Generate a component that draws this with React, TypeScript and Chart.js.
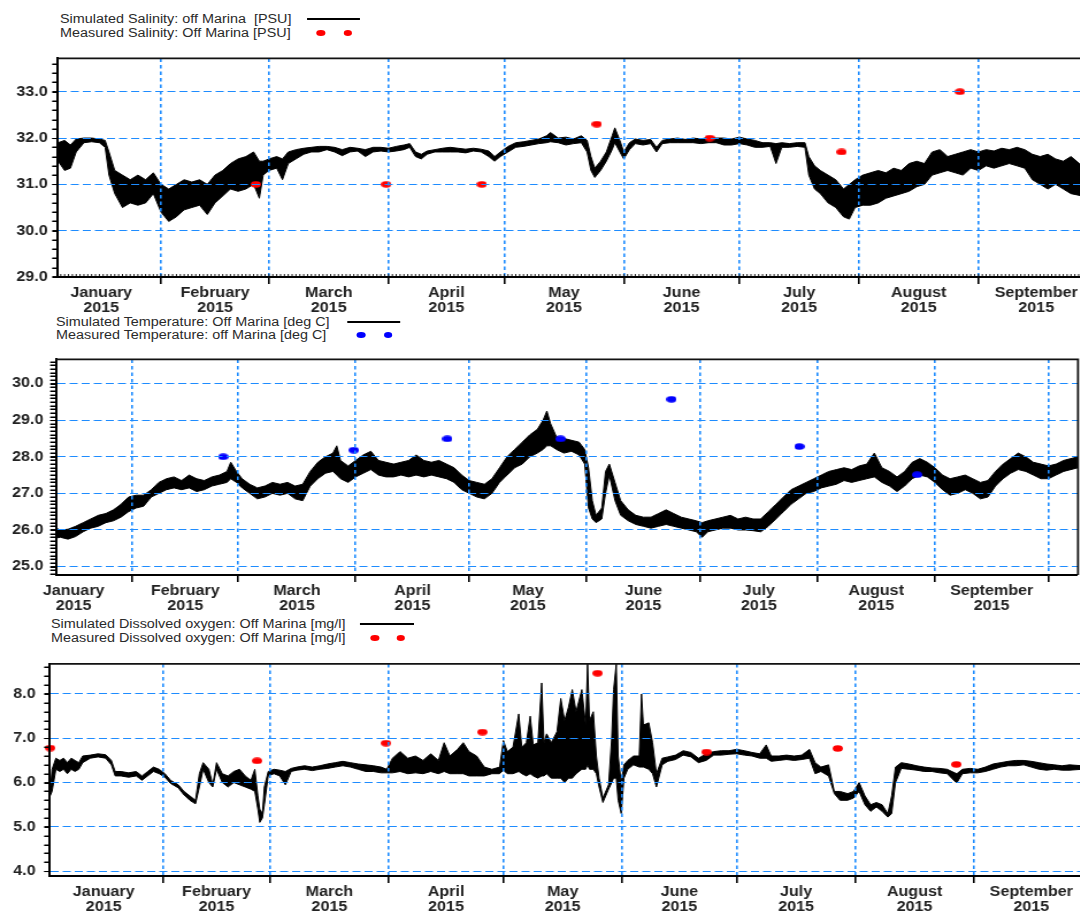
import React, { useEffect, useRef } from 'react';
import { Chart, registerables } from 'chart.js';

Chart.register(...registerables);

// ---------- layout constants ----------
const SX = 1.15; // the reference picture is stretched horizontally
const W = 945; // internal canvas width (page width / SX)
const FONT = "'Liberation Sans', Arial, Helvetica, sans-serif";
const GRID_BLUE = '#1e8cff';
const ix = (px: number) => px / SX;

// ---------- axis categories ----------
const MONTHS = ['January', 'February', 'March', 'April', 'May', 'June', 'July', 'August', 'September'];
const YEAR = '2015';
const MONTH_START = [0, 31, 59, 90, 120, 151, 181, 212, 243, 273]; // day of year 2015
const MONTH_MID = MONTHS.map((_, i) => (MONTH_START[i] + MONTH_START[i + 1]) / 2);

// ---------- Salinity (PSU) ----------
const SAL_DAY = [
  4.3, 6, 7.5, 9, 11, 13, 15, 16.5, 17.5, 19,
  21, 23, 25, 27, 29, 31, 33, 35, 37, 39,
  41, 43, 45, 47, 49, 51, 53, 55, 56.5, 57.5,
  59, 61, 62.5, 64, 66, 68, 70, 72, 74, 76,
  78, 80, 82, 84, 86, 88, 90, 92, 94, 95.5,
  97, 98.5, 100, 102, 104, 106, 108, 110, 112, 114,
  116, 117.5, 119, 121, 123, 125, 127, 129, 131, 132,
  134, 136, 138, 140, 141.5, 142.5, 143.5, 145, 146.5, 148,
  148.7, 150, 151, 152.5, 154, 156, 158, 159.5, 161, 163,
  165, 167, 169, 171, 173, 175, 177, 179, 181, 183,
  185, 187, 189, 190.5, 192, 194, 196, 198, 199, 200.5,
  202, 204, 206, 208, 209.5, 211, 213, 215, 217, 219,
  221, 223, 225, 227, 229, 231, 233, 235, 237, 239,
  241, 243, 245, 247, 249, 251, 253, 255, 257, 259,
  261, 263, 265, 267, 269.9,
];
const SAL_HI = [
  31.9, 31.95, 31.85, 31.98, 32.0, 32.0, 31.98, 31.95, 31.7, 31.3,
  31.2, 31.1, 31.2, 31.1, 31.25, 31.0, 30.9, 31.0, 31.1, 31.05,
  31.1, 31.0, 31.2, 31.3, 31.45, 31.55, 31.6, 31.7, 31.5, 31.5,
  31.55, 31.6, 31.55, 31.7, 31.75, 31.78, 31.8, 31.82, 31.82, 31.8,
  31.75, 31.8, 31.78, 31.75, 31.8, 31.8, 31.78, 31.82, 31.85, 31.88,
  31.7, 31.65, 31.72, 31.75, 31.78, 31.8, 31.78, 31.76, 31.78, 31.76,
  31.72, 31.6, 31.7, 31.82, 31.9, 31.92, 31.95, 31.98, 32.05, 32.12,
  32.0, 32.02, 31.98, 32.05, 31.95, 31.6, 31.35, 31.5, 31.7, 32.05,
  32.22, 31.95, 31.7, 31.9, 31.98, 31.95, 31.97, 31.8, 31.95, 31.98,
  32.0, 31.97, 32.0, 31.98, 32.02, 32.0, 32.0, 31.98, 32.02, 31.98,
  31.95, 31.9, 31.9, 31.88, 31.9, 31.88, 31.9, 31.9, 31.6, 31.4,
  31.3, 31.2, 31.1, 30.9, 31.0, 31.1, 31.2, 31.25, 31.3, 31.25,
  31.35, 31.3, 31.45, 31.5, 31.45, 31.7, 31.75, 31.6, 31.65, 31.7,
  31.75, 31.7, 31.75, 31.72, 31.78, 31.75, 31.8, 31.75, 31.65, 31.6,
  31.65, 31.55, 31.5, 31.6, 31.4,
];
const SAL_LO = [
  31.5, 31.3, 31.35, 31.7, 31.9, 31.92, 31.9, 31.8, 31.2, 30.8,
  30.5, 30.6, 30.55, 30.6, 30.8, 30.4, 30.2, 30.3, 30.45, 30.5,
  30.55, 30.35, 30.6, 30.75, 30.9, 30.85, 30.9, 31.0, 30.7, 31.2,
  31.3, 31.35, 31.1, 31.45, 31.55, 31.65, 31.7, 31.7, 31.75, 31.7,
  31.62, 31.7, 31.72, 31.6, 31.7, 31.72, 31.7, 31.72, 31.75, 31.8,
  31.6, 31.55, 31.65, 31.7, 31.7, 31.7, 31.7, 31.68, 31.72, 31.7,
  31.6, 31.5, 31.6, 31.7, 31.8, 31.82, 31.85, 31.88, 31.9, 31.92,
  31.9, 31.85, 31.88, 31.9, 31.7, 31.3, 31.15, 31.3, 31.5, 31.75,
  31.9, 31.7, 31.55, 31.75, 31.88, 31.85, 31.88, 31.7, 31.88, 31.9,
  31.9, 31.9, 31.9, 31.88, 31.9, 31.9, 31.85, 31.85, 31.88, 31.85,
  31.8, 31.8, 31.82, 31.45, 31.8, 31.8, 31.82, 31.8, 31.2, 30.9,
  30.8, 30.6, 30.5, 30.3, 30.25, 30.5, 30.55, 30.55, 30.6, 30.7,
  30.75, 30.8, 30.85, 30.95, 31.0, 31.2, 31.25, 31.3, 31.25, 31.2,
  31.35, 31.3, 31.4, 31.35, 31.4, 31.45, 31.4, 31.35, 31.1, 31.0,
  30.9, 31.0, 30.9, 30.8, 30.75,
];
const SAL_OBS_DAY = [55.6, 89.4, 114.2, 144.0, 173.3, 207.5, 238.2];
const SAL_OBS = [31.0, 31.0, 31.0, 32.3, 32.0, 31.7, 33.0];

// ---------- Temperature (deg C) ----------
const TMP_DAY = [
  10.85, 12, 14, 16, 18, 20, 22, 24, 26, 28,
  30, 32, 34, 36, 38, 40, 42, 44, 46, 48,
  50, 52, 54, 56, 57, 58.5, 60, 62, 64, 66,
  68, 70, 72, 74, 76, 78, 80, 82, 84, 85,
  86, 88, 90, 92, 94, 96, 98, 100, 102, 104,
  106, 108, 110, 112, 114, 116, 118, 120, 122, 124,
  126, 128, 130, 132, 134, 136, 138, 139.5, 140.5, 141.5,
  143, 145, 147, 149, 150.5, 151.5, 152.5, 153.5, 155, 156,
  157, 158.5, 160, 162, 164, 166, 168, 170, 172, 174,
  176, 178, 180, 181.5, 183, 185, 187, 189, 191, 193,
  195, 197, 199, 201, 203, 205, 207, 209, 211, 213,
  215, 217, 219, 221, 223, 225, 227, 229, 231, 233,
  235, 237, 239, 241, 243, 245, 247, 249, 251, 253,
  255, 257, 259, 261, 263, 265, 267, 269, 271, 273,
  275, 277, 280.8,
];
const TMP_HI = [
  26.05, 26.0, 26.02, 26.1, 26.2, 26.3, 26.4, 26.45, 26.55, 26.7,
  26.9, 26.95, 26.95, 27.1, 27.3, 27.4, 27.45, 27.35, 27.5, 27.4,
  27.35, 27.45, 27.5, 27.6, 27.85, 27.6, 27.4, 27.25, 27.15, 27.2,
  27.3, 27.25, 27.3, 27.2, 27.25, 27.6, 27.85, 28.0, 28.1, 28.3,
  27.9, 27.75, 27.9, 28.05, 28.15, 27.9, 27.85, 27.8, 27.85, 27.9,
  28.05, 27.9, 27.85, 27.9, 27.8, 27.7, 27.5, 27.35, 27.3, 27.25,
  27.4, 27.7, 28.0, 28.2, 28.4, 28.6, 28.75, 29.0, 29.25, 28.9,
  28.55, 28.5, 28.45, 28.4, 28.2, 27.7, 26.8, 26.4, 26.6, 27.6,
  27.8, 27.3, 26.8, 26.55, 26.4, 26.35, 26.35, 26.45, 26.55, 26.45,
  26.35, 26.3, 26.25, 26.2, 26.25, 26.3, 26.35, 26.4, 26.3, 26.35,
  26.3, 26.3, 26.5, 26.7, 26.9, 27.1, 27.2, 27.3, 27.4, 27.5,
  27.6, 27.65, 27.7, 27.65, 27.75, 27.8, 28.1, 27.7, 27.6, 27.45,
  27.6, 27.85, 27.95, 27.85, 27.7, 27.5, 27.4, 27.45, 27.5, 27.4,
  27.3, 27.35, 27.6, 27.8, 27.95, 28.1, 28.0, 27.85, 27.8, 27.75,
  27.8, 27.9, 28.0,
];
const TMP_LO = [
  25.78, 25.8, 25.75, 25.82, 25.95, 26.05, 26.1, 26.2, 26.25, 26.35,
  26.5, 26.6, 26.65, 26.9, 27.0, 27.1, 27.15, 27.1, 27.15, 27.05,
  27.1, 27.2, 27.25, 27.3, 27.4, 27.3, 27.15, 27.0, 26.85, 26.9,
  27.0, 26.95, 27.0, 26.85, 26.8, 27.2, 27.4, 27.55, 27.6, 27.5,
  27.4, 27.3, 27.45, 27.55, 27.65, 27.5, 27.45, 27.45, 27.5, 27.45,
  27.5, 27.45, 27.5, 27.45, 27.4, 27.3, 27.1, 27.0, 26.9, 26.85,
  27.0, 27.3, 27.5, 27.7, 27.8, 28.0, 28.1, 28.2, 28.3, 28.3,
  28.2, 28.1, 28.15, 28.05, 27.8, 26.6, 26.3, 26.2, 26.3, 27.0,
  27.5, 26.8, 26.4, 26.25, 26.15, 26.1, 26.05, 26.1, 26.15, 26.1,
  26.05, 26.0, 25.95, 25.8, 25.95, 26.0, 26.05, 26.05, 26.0, 26.0,
  25.98, 25.95, 26.1, 26.3, 26.5, 26.7, 26.85, 27.0, 27.05, 27.15,
  27.2, 27.25, 27.35, 27.3, 27.35, 27.4, 27.45, 27.3, 27.2, 27.05,
  27.2, 27.4, 27.5, 27.45, 27.3, 27.1, 26.95, 27.0, 27.1, 27.0,
  26.85, 26.9, 27.2, 27.4, 27.55, 27.65, 27.6, 27.5, 27.4, 27.4,
  27.5, 27.6, 27.7,
];
const TMP_OBS_DAY = [55.0, 89.5, 114.2, 144.1, 173.4, 207.2, 238.3];
const TMP_OBS = [28.0, 28.18, 28.49, 28.49, 29.57, 28.28, 27.51];

// ---------- Dissolved oxygen (mg/l) ----------
const DO_DAY = [
  1.5, 2, 3, 4, 5, 6, 7, 8, 9, 10,
  12, 14, 16, 17.5, 18.5, 20, 22, 24, 25.5, 27,
  28.5, 30, 31.5, 33, 35, 36.5, 38, 39.5, 40.5, 41.5,
  43, 44, 45, 46.5, 48, 49.5, 51, 52.5, 54, 55,
  55.8, 56.3, 57, 57.5, 58.5, 60, 61.5, 63, 64.5, 66,
  68, 70, 72, 74, 76, 78, 80, 82, 84, 86,
  88, 89.5, 91, 93, 95, 97, 99, 101, 103, 104.5,
  106, 108, 109.5, 111, 113, 115, 117, 119, 120, 121,
  122.5, 124, 124.8, 126, 127, 127.8, 129, 130, 130.6, 131.3,
  132.5, 134, 135, 136, 137, 138, 139, 140.5, 141.5, 142,
  142.5, 143.5, 144.3, 145, 146, 147.5, 148.3, 148.8, 149.5, 150,
  150.8, 151.5, 152.5, 154, 155.5, 156.1, 156.6, 158, 159, 160,
  161.5, 163, 165, 167, 169, 171, 173, 175, 177, 179,
  181, 183, 185, 187, 188.7, 190, 192, 194, 196, 198,
  200, 201.5, 203, 205, 206.5, 208, 210, 211.5, 213, 214.5,
  216, 217.5, 219, 220.5, 221.5, 222.5, 224, 226, 228, 230,
  232, 234, 236, 238.5, 240, 242, 244, 246, 248, 250,
  252, 254, 256, 258, 260, 262, 264, 266, 268, 271.3,
];
const DO_HI = [
  5.8, 6.3, 6.55, 6.5, 6.55, 6.45, 6.55, 6.5, 6.45, 6.6,
  6.62, 6.65, 6.63, 6.5, 6.25, 6.25, 6.22, 6.25, 6.15, 6.25,
  6.35, 6.3, 6.2, 6.05, 5.95, 5.8, 5.7, 5.6, 6.2, 6.45,
  6.3, 5.95, 6.45, 6.2, 6.15, 6.25, 6.3, 6.15, 6.05, 6.3,
  5.7, 5.4, 5.3, 5.9, 6.25, 6.3, 6.28, 6.25, 6.32, 6.35,
  6.38, 6.35, 6.38, 6.42, 6.45, 6.48, 6.45, 6.42, 6.4, 6.38,
  6.35, 6.3, 6.55, 6.7, 6.55, 6.6, 6.5, 6.65, 6.5, 6.9,
  6.6, 6.75, 6.9, 6.7, 6.6, 6.35, 6.3, 6.35, 6.95, 6.7,
  6.8, 7.55, 6.8, 6.9, 7.5, 6.85, 6.9, 8.25, 6.9, 7.1,
  6.9, 7.15, 7.9, 7.4, 7.7, 8.1, 7.6, 8.1, 7.3, 8.68,
  7.4, 7.6, 6.6, 6.1, 5.65, 5.95, 7.0, 8.1, 8.68, 6.6,
  6.0, 6.4, 6.5, 6.6, 6.6, 8.0, 7.3, 7.35, 6.9, 6.2,
  6.55, 6.58, 6.62, 6.72, 6.68, 6.55, 6.65, 6.7, 6.72, 6.72,
  6.75, 6.72, 6.68, 6.65, 6.85, 6.6, 6.6, 6.62, 6.6, 6.62,
  6.75, 6.45, 6.35, 6.4, 5.8, 5.8, 5.75, 5.8, 6.0, 5.7,
  5.5, 5.55, 5.5, 5.3, 5.7, 6.35, 6.45, 6.42, 6.38, 6.35,
  6.33, 6.32, 6.3, 6.2, 6.3, 6.32, 6.3, 6.35, 6.42, 6.45,
  6.48, 6.5, 6.5, 6.48, 6.45, 6.42, 6.4, 6.38, 6.4, 6.38,
];
const DO_LO = [
  5.7, 5.8, 6.3, 6.25, 6.3, 6.2, 6.3, 6.25, 6.3, 6.45,
  6.55, 6.58, 6.55, 6.4, 6.15, 6.15, 6.12, 6.15, 6.05, 6.15,
  6.25, 6.2, 6.12, 5.98, 5.88, 5.72, 5.6, 5.52, 5.9, 6.3,
  6.0, 5.9, 6.3, 6.0, 5.9, 6.0, 5.95, 5.9, 5.85, 5.8,
  5.4, 5.1, 5.2, 5.5, 6.15, 6.2, 6.15, 5.95, 6.25, 6.28,
  6.3, 6.27, 6.3, 6.32, 6.35, 6.38, 6.35, 6.3, 6.25, 6.25,
  6.22, 6.22, 6.22, 6.25, 6.2, 6.22, 6.2, 6.25, 6.2, 6.25,
  6.2, 6.2, 6.2, 6.15, 6.15, 6.15, 6.2, 6.2, 6.28, 6.2,
  6.2, 6.25, 6.2, 6.15, 6.2, 6.15, 6.1, 6.15, 6.15, 6.2,
  6.1, 6.1, 6.1, 6.0, 6.1, 6.1, 6.2, 6.3, 6.3, 6.4,
  6.3, 6.3, 6.2, 5.9, 5.55, 5.85, 6.0, 6.1, 6.1, 5.6,
  5.3, 6.1, 6.3, 6.4, 6.35, 6.35, 6.35, 6.3, 6.2, 5.9,
  6.4, 6.48, 6.52, 6.62, 6.58, 6.45, 6.5, 6.62, 6.62, 6.64,
  6.65, 6.62, 6.6, 6.55, 6.55, 6.48, 6.5, 6.52, 6.5, 6.52,
  6.55, 6.2, 6.25, 6.15, 5.75, 5.6, 5.6, 5.65, 5.8, 5.5,
  5.35, 5.45, 5.35, 5.22, 5.3, 6.0, 6.32, 6.3, 6.28, 6.25,
  6.25, 6.22, 6.2, 5.99, 6.2, 6.22, 6.22, 6.25, 6.3, 6.35,
  6.38, 6.38, 6.4, 6.35, 6.3, 6.28, 6.3, 6.28, 6.28, 6.3,
];
const DO_OBS_DAY = [1.5, 55.6, 89.3, 114.5, 144.6, 173.1, 207.4, 238.4];
const DO_OBS = [6.78, 6.49, 6.89, 7.14, 8.47, 6.69, 6.77, 6.41];

// ---------- legend texts ----------
const SAL_SIM_LABEL = 'Simulated Salinity: off Marina  [PSU]';
const SAL_OBS_LABEL = 'Measured Salinity: Off Marina [PSU]';
const TMP_SIM_LABEL = 'Simulated Temperature: Off Marina [deg C]';
const TMP_OBS_LABEL = 'Measured Temperature: off Marina [deg C]';
const DO_SIM_LABEL = 'Simulated Dissolved oxygen: Off Marina [mg/l]';
const DO_OBS_LABEL = 'Measured Dissolved oxygen: Off Marina [mg/l]';

type PanelDef = {
  top: number; height: number; padTop: number; xAxisH: number;
  left: number; right: number;
  xMin: number; xMax: number; yMin: number; yMax: number; yStep: number; yPad: number;
  days: number[]; hi: number[]; lo: number[];
  obsDays: number[]; obs: number[]; obsColor: string; minorDays: boolean;
  legend: { textLeft: number; row1: number; row2: number; sim: string; meas: string; lineX1: number; lineX2: number; dot1: number; dot2: number };
};

const PANELS: PanelDef[] = [
  {
    top: 46, height: 268, padTop: 9, xAxisH: 37, left: 58, right: 1084,
    xMin: 4.28, xMax: 269.9, yMin: 29, yMax: 33.72, yStep: 0.2, yPad: 4,
    days: SAL_DAY, hi: SAL_HI, lo: SAL_LO, obsDays: SAL_OBS_DAY, obs: SAL_OBS, obsColor: '#ff0000', minorDays: true,
    legend: { textLeft: 60, row1: 19, row2: 33, sim: SAL_SIM_LABEL, meas: SAL_OBS_LABEL, lineX1: 307, lineX2: 360, dot1: 321, dot2: 348 },
  },
  {
    top: 345, height: 267, padTop: 10, xAxisH: 37, left: 56, right: 1078,
    xMin: 10.84, xMax: 280.8, yMin: 24.77, yMax: 30.66, yStep: 0.1, yPad: 6,
    days: TMP_DAY, hi: TMP_HI, lo: TMP_LO, obsDays: TMP_OBS_DAY, obs: TMP_OBS, obsColor: '#0000ff', minorDays: false,
    legend: { textLeft: 56, row1: 322, row2: 335, sim: TMP_SIM_LABEL, meas: TMP_OBS_LABEL, lineX1: 347, lineX2: 400, dot1: 361, dot2: 388 },
  },
  {
    top: 648, height: 264, padTop: 9, xAxisH: 36, left: 50, right: 1084,
    xMin: 1.46, xMax: 271.3, yMin: 3.89, yMax: 8.68, yStep: 0.2, yPad: 7.5,
    days: DO_DAY, hi: DO_HI, lo: DO_LO, obsDays: DO_OBS_DAY, obs: DO_OBS, obsColor: '#ff0000', minorDays: false,
    legend: { textLeft: 51, row1: 624, row2: 638, sim: DO_SIM_LABEL, meas: DO_OBS_LABEL, lineX1: 360, lineX2: 414, dot1: 375, dot2: 401 },
  },
];

function makeDot(color: string) {
  const c = document.createElement('canvas');
  c.width = 9;
  c.height = 7;
  const g = c.getContext('2d');
  if (g) {
    g.fillStyle = color;
    g.beginPath();
    g.ellipse(4.5, 3.5, 4.4, 3.3, 0, 0, Math.PI * 2);
    g.fill();
  }
  return c;
}

const near = (a: number, b: number) => Math.abs(a - b) < 1e-6;
const isInt = (v: any) => typeof v === 'number' && near(v, Math.round(v));
const isMonthStart = (v: any) => typeof v === 'number' && MONTH_START.some((m) => near(m, v));

// frame (top / right border) plus the small axis tick marks
const framePlugin = {
  id: 'frame',
  afterDraw(chart: any, _args: any, opts: any) {
    const { ctx, chartArea: a } = chart;
    ctx.save();
    ctx.strokeStyle = '#111';
    ctx.lineWidth = 1.8;
    ctx.beginPath();
    ctx.moveTo(a.left, a.top);
    ctx.lineTo(a.right, a.top);
    ctx.lineTo(a.right, a.bottom);
    ctx.stroke();
    const ys = chart.scales.y;
    if (opts && opts.yStep) {
      ctx.lineWidth = 1;
      ctx.strokeStyle = '#000';
      ctx.beginPath();
      const k0 = Math.ceil(ys.min / opts.yStep - 1e-6);
      for (let k = k0; k * opts.yStep <= ys.max + 1e-6; k += 1) {
        const py = Math.round(ys.getPixelForValue(k * opts.yStep)) + 0.5;
        ctx.moveTo(a.left - 5, py);
        ctx.lineTo(a.left, py);
      }
      ctx.stroke();
    }
    if (opts && opts.minorDays) {
      const xs = chart.scales.x;
      ctx.lineWidth = 0.9;
      ctx.strokeStyle = '#000';
      ctx.beginPath();
      for (let d = Math.ceil(xs.min); d <= xs.max; d += 1) {
        const px = xs.getPixelForValue(d);
        ctx.moveTo(px, a.bottom + 1);
        ctx.lineTo(px, a.bottom - 3);
      }
      ctx.stroke();
    }
    ctx.restore();
  },
};

function PanelChart({ p }: { p: PanelDef }) {
  const ref = useRef<HTMLCanvasElement | null>(null);
  useEffect(() => {
    const canvas = ref.current;
    if (!canvas) return;
    const dot = makeDot(p.obsColor);
    const xTicks = [...MONTH_START, ...MONTH_MID]
      .filter((v) => v >= p.xMin && v <= p.xMax)
      .sort((a, b) => a - b);
    const chart = new Chart(canvas, {
      type: 'line',
      data: {
        datasets: [
          {
            label: 'measured',
            data: p.obsDays.map((d, i) => ({ x: d, y: p.obs[i] })),
            showLine: false,
            pointStyle: dot,
            pointRadius: 4,
            pointHoverRadius: 4,
            borderWidth: 0,
            clip: false,
          },
          {
            label: 'sim-hi',
            data: p.days.map((d, i) => ({ x: d, y: p.hi[i] })),
            borderColor: '#000',
            backgroundColor: '#000',
            borderWidth: 1,
            pointRadius: 0,
            tension: 0,
            fill: '+1',
          },
          {
            label: 'sim-lo',
            data: p.days.map((d, i) => ({ x: d, y: p.lo[i] })),
            borderColor: '#000',
            backgroundColor: '#000',
            borderWidth: 1,
            pointRadius: 0,
            tension: 0,
            fill: false,
          },
        ],
      } as any,
      options: {
        animation: false,
        responsive: false,
        devicePixelRatio: 1,
        events: [],
        layout: { padding: { left: 0, top: p.padTop, bottom: 0, right: W - ix(p.right) } },
        plugins: {
          legend: { display: false },
          tooltip: { enabled: false },
          frame: { minorDays: p.minorDays, yStep: p.yStep },
        } as any,
        scales: {
          x: {
            type: 'linear',
            min: p.xMin,
            max: p.xMax,
            afterBuildTicks: (s: any) => {
              s.ticks = xTicks.map((v) => ({ value: v }));
            },
            afterFit: (s: any) => {
              s.height = p.xAxisH;
            },
            ticks: {
              autoSkip: false,
              maxRotation: 0,
              minRotation: 0,
              padding: 1,
              color: '#222',
              font: { family: FONT, size: 14, weight: 'bold', lineHeight: 1.1 },
              callback: (v: any) => {
                const i = MONTH_MID.findIndex((m) => near(m, v));
                return i >= 0 ? [MONTHS[i], YEAR] : '';
              },
            },
            grid: {
              z: 1,
              color: GRID_BLUE,
              lineWidth: (c: any) => (c.tick && isMonthStart(c.tick.value) ? 1.6 : 0),
              drawTicks: true,
              tickLength: 7,
              tickWidth: (c: any) => (c.tick && isMonthStart(c.tick.value) ? 1.6 : 0),
              tickColor: '#000',
            },
            border: { display: true, color: '#000', width: 2, dash: [3.5, 3], z: 2 },
          },
          y: {
            type: 'linear',
            min: p.yMin,
            max: p.yMax,
            afterBuildTicks: (s: any) => {
              const t: any[] = [];
              const k0 = Math.ceil(p.yMin / p.yStep - 1e-6);
              for (let k = k0; k * p.yStep <= p.yMax + 1e-6; k += 1) {
                t.push({ value: Math.round(k * p.yStep * 100) / 100 });
              }
              s.ticks = t;
            },
            afterFit: (s: any) => {
              s.width = ix(p.left);
            },
            ticks: {
              autoSkip: false,
              padding: p.yPad,
              color: '#222',
              font: { family: FONT, size: 14, weight: 'bold' },
              callback: (v: any) => (isInt(v) ? Number(v).toFixed(1) : ''),
            },
            grid: {
              z: 1,
              color: GRID_BLUE,
              lineWidth: (c: any) => (c.tick && isInt(c.tick.value) ? 1.1 : 0),
              drawTicks: true,
              tickLength: 5,
              tickWidth: 1,
              tickColor: '#000',
            },
            border: { display: true, color: '#000', width: 2, dash: [7, 3.5], z: 2 },
          },
        },
      } as any,
      plugins: [framePlugin],
    });
    return () => chart.destroy();
  }, [p]);
  return (
    <canvas
      ref={ref}
      width={W}
      height={p.height}
      style={{ position: 'absolute', left: 0, top: p.top, width: W, height: p.height }}
    />
  );
}

function Legend({ p }: { p: PanelDef }) {
  const l = p.legend;
  const text: React.CSSProperties = {
    position: 'absolute',
    left: ix(l.textLeft),
    fontFamily: FONT,
    fontSize: 12.5,
    lineHeight: '14px',
    color: '#2a2a2a',
    whiteSpace: 'pre',
  };
  const dotStyle = (cx: number): React.CSSProperties => ({
    position: 'absolute',
    left: ix(cx) - 3.8,
    top: l.row2 - 3,
    width: 7.6,
    height: 6,
    borderRadius: '50%',
    background: p.obsColor,
  });
  return (
    <>
      <div style={{ ...text, top: l.row1 - 7 }}>{l.sim}</div>
      <div
        style={{
          position: 'absolute',
          left: ix(l.lineX1),
          width: ix(l.lineX2) - ix(l.lineX1),
          top: l.row1 - 0.75,
          height: 1.5,
          background: '#000',
        }}
      />
      <div style={{ ...text, top: l.row2 - 7 }}>{l.meas}</div>
      <div style={dotStyle(l.dot1)} />
      <div style={dotStyle(l.dot2)} />
    </>
  );
}

export default function App() {
  return (
    <div
      style={{
        position: 'absolute',
        left: 0,
        top: 0,
        width: W,
        height: 912,
        background: '#fff',
        transform: `scaleX(${SX})`,
        transformOrigin: '0 0',
        overflow: 'visible',
      }}
    >
      {PANELS.map((p, i) => (
        <React.Fragment key={i}>
          <Legend p={p} />
          <PanelChart p={p} />
        </React.Fragment>
      ))}
    </div>
  );
}
